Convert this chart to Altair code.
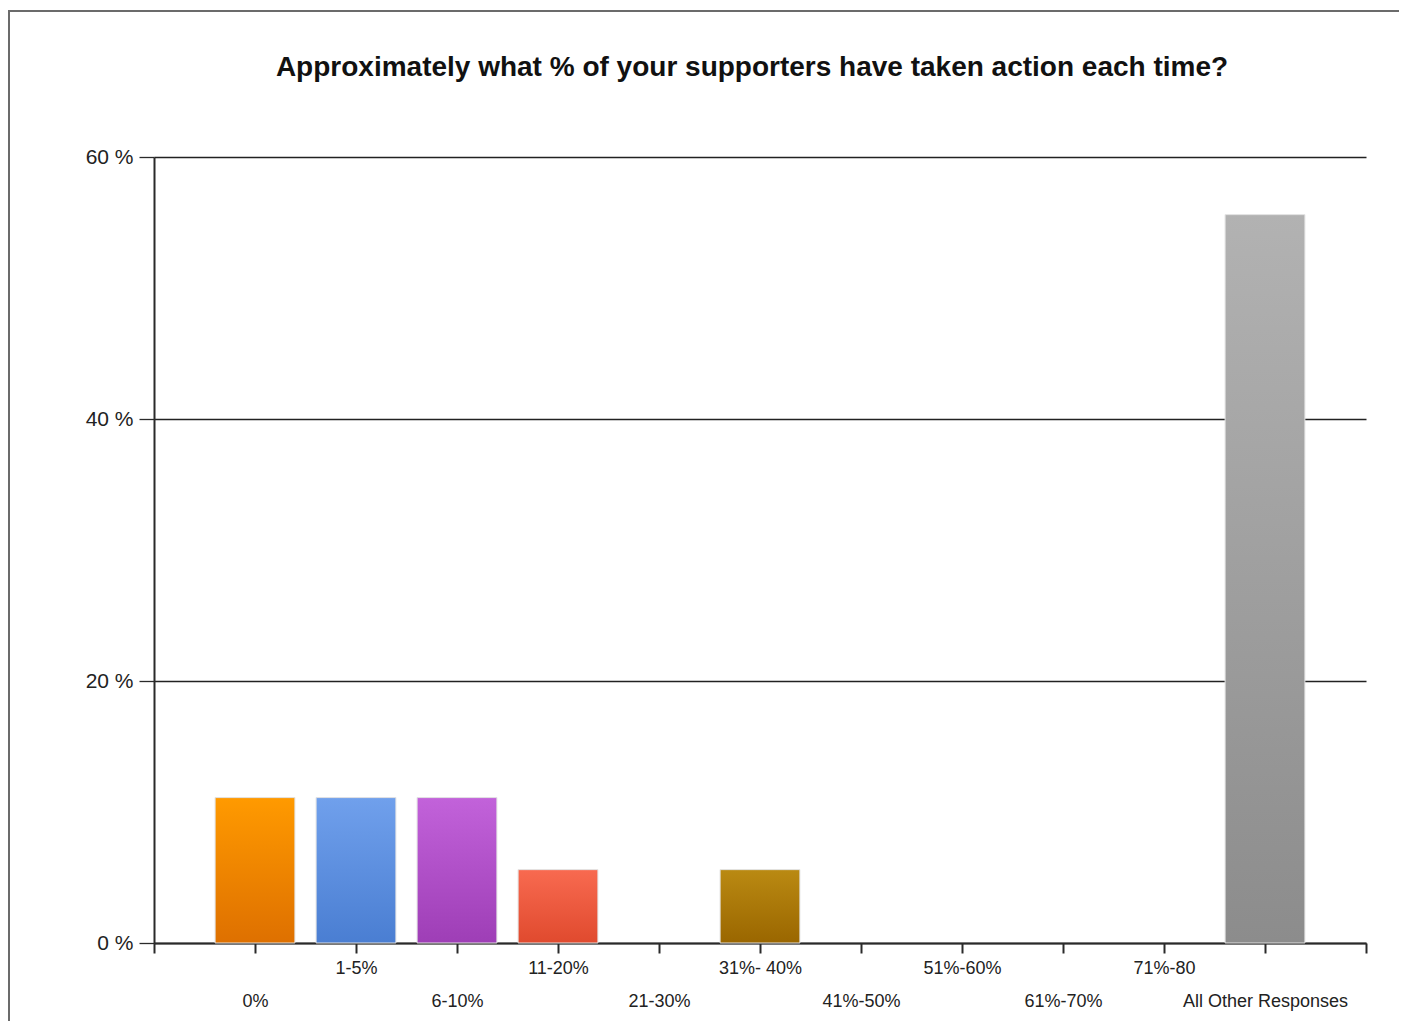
import json
import altair as alt
import pandas as pd

categories = ["0%", "1-5%", "6-10%", "11-20%", "21-30%", "31%- 40%",
              "41%-50%", "51%-60%", "61%-70%", "71%-80", "All Other Responses"]
values = [11.1, 11.1, 11.1, 5.6, 0.0, 5.6, 0.0, 0.0, 0.0, 0.0, 55.6]
top_colors = ["#FF9A00", "#70A0EC", "#C262DA", "#F86A50", "#BA8A12", "#B2B2B2"]
bottom_colors = ["#DE7000", "#4A7ED2", "#9E3EB6", "#E04A2E", "#9A6600", "#8C8C8C"]
y_ticks = [0, 20, 40, 60]
title_text = "Approximately what % of your supporters have taken action each time?"

df = pd.DataFrame({"cat": categories, "val": values,
                   "pos": list(range(1, len(categories) + 1))})

names_js = json.dumps(categories)
label_expr = (
    f"datum.value >= 1 && datum.value <= {len(categories)} ? "
    f"(datum.value % 2 == 0 ? {names_js}[datum.value - 1] : ['', {names_js}[datum.value - 1]]) : ''"
)

x_axis = alt.Axis(values=list(range(0, len(categories) + 2)), labelExpr=label_expr,
                  title=None, grid=False, domainColor="#2a2a2a", domainWidth=2,
                  tickColor="#2a2a2a", tickWidth=2, tickSize=10, labelPadding=6,
                  labelFont="Liberation Sans", labelFontSize=18, labelColor="#222",
                  labelLineHeight=33, labelBaseline="top", labelFlush=False,
                  labelOverlap=False)
y_axis = alt.Axis(values=y_ticks, labelExpr="datum.value + ' %'", title=None,
                  grid=True, gridColor="#222", gridWidth=1.3, domainColor="#2a2a2a",
                  domainWidth=2, tickColor="#2a2a2a", tickWidth=1.3, tickSize=15,
                  labelPadding=6, labelFont="Liberation Sans", labelFontSize=21,
                  labelColor="#222")

x_scale = alt.Scale(domain=[0, len(categories) + 1], nice=False, zero=False)
y_scale = alt.Scale(domain=[0, 60], nice=False)

base = alt.Chart(df).transform_calculate(
    xa="datum.pos - 0.395", xb="datum.pos + 0.395"
)

layers = []
ci = 0
for i, v in enumerate(values):
    if v <= 0:
        continue
    grad = alt.Gradient(gradient="linear", x1=0, x2=0, y1=0, y2=1,
                        stops=[alt.GradientStop(offset=0, color=top_colors[ci]),
                               alt.GradientStop(offset=1, color=bottom_colors[ci])])
    ci += 1
    layers.append(
        base.transform_filter(f"datum.pos == {i + 1}")
        .mark_rect(fill=grad, stroke="#e2e2e2", strokeWidth=1)
        .encode(
            x=alt.X("xa:Q", scale=x_scale, axis=x_axis),
            x2="xb:Q",
            y=alt.Y("val:Q", scale=y_scale, axis=y_axis),
            y2=alt.datum(0),
        )
    )

frame = alt.Chart(pd.DataFrame({"a": [0]})).mark_rect(
    fill="transparent", stroke="#6b6b6b", strokeWidth=2, clip=False
).encode(
    x=alt.value(-145), x2=alt.value(1400), y=alt.value(-146), y2=alt.value(1000)
)

chart = alt.layer(frame, *layers).properties(
    width=1212, height=786,
    title=alt.TitleParams(title_text, font="Liberation Sans", fontSize=28,
                          fontWeight="bold", color="#111", offset=-72,
                          anchor="middle", dx=-8),
    autosize=alt.AutoSizeParams(type="none"),
    padding={"left": 146, "top": 149, "right": 33, "bottom": 78},
    background="white",
).configure_view(stroke=None)

chart.save("out.html", embed_options={"renderer": "svg", "actions": False})
